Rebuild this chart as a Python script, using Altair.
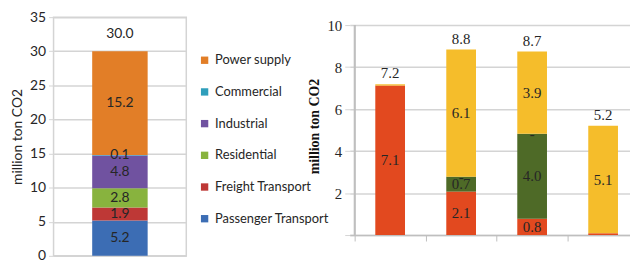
import altair as alt
import pandas as pd

# ---------------- data ----------------
left_cats = ["Passenger Transport", "Freight Transport", "Residential",
             "Industrial", "Commercial", "Power supply"]
left_vals = [5.2, 1.9, 2.8, 4.8, 0.1, 15.2]
left_colors = ["#3C6DB4", "#BE3836", "#88B33E", "#7052A0", "#2F9EBB", "#E27E27"]
left_total = 30.0
left_ticks = [0, 5, 10, 15, 20, 25, 30, 35]

right_groups = ["G1", "G2", "G3", "G4"]
right_stack = ["Oil", "Gas", "Coal", "Electricity"]          # bottom -> top
oil = [7.12, 2.07, 0.78, 0.08]
gas = [0.0, 0.71, 4.04, 0.0]
coal = [None, 0.0, 0.0, None]
elec = [0.06, 6.06, 3.92, 5.12]
right_totals = [7.2, 8.8, 8.7, 5.2]
legend_order = ["Electricity", "Gas", "Oil", "Coal"]
bar_colors = ["#F5BD2B", "#4E6A27", "#E2491F", "#A6A6A6"]     # legend order
swatch_colors = ["#F7962B", "#4E6A27", "#E2491F", "#A6A6A6"]
right_ticks = [0, 1, 2, 3, 4, 5, 6, 7, 8, 9, 10]

SANS = "Lato"
SERIF = "Liberation Serif"
TXT = "#262626"
GRID = "#D4D4D4"

# ---------------- left table ----------------
rows = []
acc = 0.0
for i, (c, v) in enumerate(zip(left_cats, left_vals)):
    rows.append({"g": "a", "cat": c, "start": acc, "end": acc + v,
                 "mid": acc + v / 2, "label": f"{v:.1f}"})
    acc += v
ldf = pd.DataFrame(rows)
ltot = pd.DataFrame({"g": ["a"], "t": [left_total], "label": [f"{left_total:.1f}"]})

lx = alt.X("g:N", axis=None, scale=alt.Scale(paddingInner=0, paddingOuter=0))
ly_scale = alt.Scale(domain=[0, 35], nice=False)
ly_axis = alt.Axis(values=left_ticks, title="million ton CO2", labelOverlap=False,
                   titleFont=SANS, titleFontSize=14, titleFontWeight="normal",
                   titleColor=TXT, titlePadding=5,
                   labelFont=SANS, labelFontSize=14, labelColor=TXT,
                   labelPadding=3, tickSize=5, tickColor=GRID,
                   gridColor=GRID, gridWidth=1.5, domain=False)


def LY(field):
    return alt.Y(field, scale=ly_scale, axis=ly_axis)


left_bars = alt.Chart(ldf).mark_bar(size=56).encode(
    x=lx,
    y=LY("start:Q"),
    y2="end:Q",
    color=alt.Color("cat:N",
                    scale=alt.Scale(domain=left_cats[::-1], range=left_colors[::-1]),
                    legend=alt.Legend(title=None, orient="none", legendX=146, legendY=37,
                                      symbolType="square", symbolSize=55,
                                      symbolStrokeWidth=0, rowPadding=18,
                                      labelFont=SANS, labelFontSize=13,
                                      labelColor=TXT, labelOffset=4, padding=0)),
)
left_text = alt.Chart(ldf).mark_text(font=SANS, fontSize=14, color=TXT).encode(
    x=lx, y=LY("mid:Q"), text="label:N")
left_total_t = alt.Chart(ltot).mark_text(font=SANS, fontSize=14, color=TXT, dy=-17).encode(
    x=lx, y=LY("t:Q"), text="label:N")

left = alt.layer(left_bars, left_text, left_total_t).properties(
    width=134, height=241,
    view=alt.ViewBackground(stroke=GRID, strokeWidth=1.5))

# ---------------- right table ----------------
series_vals = {"Oil": oil, "Gas": gas, "Coal": coal, "Electricity": elec}
rrows = []
for gi, g in enumerate(right_groups):
    acc = 0.0
    for s in right_stack:
        v = series_vals[s][gi]
        if v is None:
            continue
        if v >= 0.3:
            lab = f"{v:.1f}"
        elif s == "Coal":
            lab = "-"
        else:
            lab = ""
        rrows.append({"pos": gi + 0.5, "series": s, "start": acc, "end": acc + v,
                      "mid": acc + v / 2, "label": lab})
        acc += v
rdf = pd.DataFrame(rrows)
rtot = pd.DataFrame({"pos": [i + 0.5 for i in range(len(right_groups))],
                     "t": right_totals,
                     "label": [f"{t:.1f}" for t in right_totals]})

band_px = 74.3
rwidth = 283
rheight = 220
x_max = rwidth / band_px
y_max = rheight / 21.2

rx_scale = alt.Scale(domain=[0, x_max], nice=False, zero=False)
ry_scale = alt.Scale(domain=[0, y_max], nice=False)
ry_axis = alt.Axis(values=right_ticks, title="million ton CO2", labelOverlap=False,
                   labelExpr="datum.value == 0 ? '' : datum.label",
                   titleFont=SERIF, titleFontSize=14, titleFontWeight="bold",
                   titleColor="#111111", titlePadding=6,
                   labelFont=SERIF, labelFontSize=15, labelColor=TXT,
                   labelPadding=3, tickSize=5, tickColor=GRID,
                   gridColor=GRID, gridWidth=1.5, domain=False)
rx_axis = alt.Axis(values=[0, 1, 2, 3], labels=False, grid=False, title=None,
                   tickSize=6, tickColor="#BFBFBF", domainColor="#BFBFBF",
                   domainWidth=1.5)


def RY(field):
    return alt.Y(field, scale=ry_scale, axis=ry_axis)


def RX():
    return alt.X("pos:Q", scale=rx_scale, axis=rx_axis)


right_bars = alt.Chart(rdf).mark_bar(size=30).encode(
    x=RX(),
    y=RY("start:Q"),
    y2="end:Q",
    color=alt.Color("series:N", scale=alt.Scale(domain=legend_order, range=bar_colors),
                    legend=None),
)
right_axis_line = alt.Chart(rtot).mark_rule(color="#BFBFBF", strokeWidth=1.5).encode(
    x=alt.datum(0, scale=rx_scale), y=alt.datum(0), y2=alt.datum(10))
legend_layer = alt.Chart(rdf).mark_square(opacity=0, size=1).encode(
    x=RX(), y=RY("end:Q"),
    fill=alt.Fill("series:N", scale=alt.Scale(domain=legend_order, range=swatch_colors),
                  legend=alt.Legend(title=None, orient="none", direction="horizontal",
                                    legendX=55, legendY=-6, symbolType="square",
                                    symbolSize=60, symbolOpacity=1, symbolStrokeWidth=0,
                                    columnPadding=22, labelFont=SERIF, labelFontSize=15,
                                    labelColor=TXT, labelOffset=4, padding=0)),
)
right_text = alt.Chart(rdf).mark_text(font=SERIF, fontSize=15, color=TXT).encode(
    x=RX(), y=RY("mid:Q"), text="label:N")
right_total_t = alt.Chart(rtot).mark_text(font=SERIF, fontSize=15, color=TXT, dy=-11).encode(
    x=RX(), y=RY("t:Q"), text="label:N")

right = alt.layer(right_bars, right_axis_line, legend_layer, right_text,
                  right_total_t).properties(width=rwidth, height=rheight)

chart = alt.hconcat(left, right, spacing=165, bounds="flush").resolve_scale(
    color="independent", fill="independent", x="independent", y="independent"
).resolve_legend(color="independent", fill="independent").properties(
    padding={"left": 2, "top": 0, "right": 0, "bottom": 0}
).configure_view(stroke=None)

chart.save("out.html", embed_options={"renderer": "svg", "actions": False})
